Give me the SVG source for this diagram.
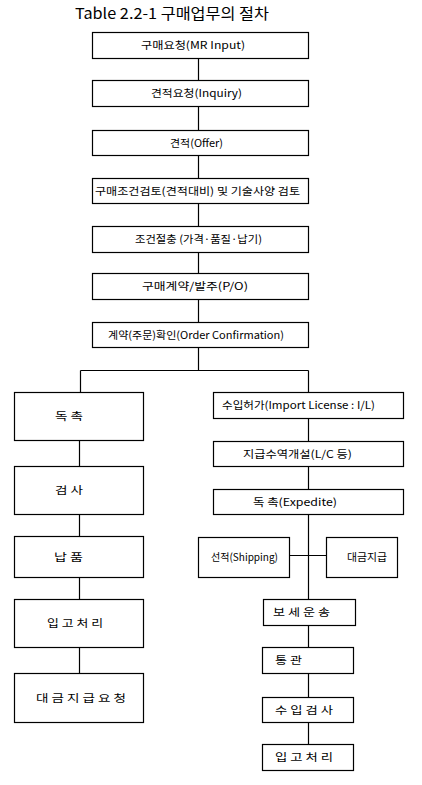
<svg xmlns="http://www.w3.org/2000/svg" width="422" height="785" viewBox="0 0 422 785">
<style>
.b{fill:#fff;stroke:#000;stroke-width:1.2}
.c{fill:none;stroke:#000;stroke-width:1.2}
text{font-family:"Noto Sans CJK KR","Noto Sans",sans-serif;font-size:10.5px;fill:#000}
.t{font-size:15px}
</style>
<rect width="422" height="785" fill="#fff"/>
<text class="t" x="75" y="19" textLength="194" lengthAdjust="spacingAndGlyphs">Table 2.2-1 구매업무의 절차</text>
<g id="connectors">
<path class="c" d="M198.5 58V80M198.5 106V130M198.5 155V178M198.5 203V226M198.5 252V273M198.5 299V322M198.5 347V370.5"/>
<path class="c" d="M80.5 370.5H308.5M80.5 370.5V392M79.5 440V466M79.5 514V536M79.5 577V599M79.5 647V673"/>
<path class="c" d="M308.5 370.5V392M308.5 418V441M308.5 466V489M308.5 514V599M289 555.5H326M308.5 625V647M308.5 673V697M308.5 722V744"/>
</g>
<g id="n1"><rect class="b" x="92.5" y="32.5" width="216" height="26"/><text x="141" y="49" textLength="104" lengthAdjust="spacingAndGlyphs">구매요청(MR Input)</text></g>
<g id="n2"><rect class="b" x="92.5" y="80.5" width="216" height="26"/><text x="151" y="97" textLength="91" lengthAdjust="spacingAndGlyphs">견적요청(Inquiry)</text></g>
<g id="n3"><rect class="b" x="92.5" y="130.5" width="216" height="25"/><text x="170" y="146.5" textLength="53" lengthAdjust="spacingAndGlyphs">견적(Offer)</text></g>
<g id="n4"><rect class="b" x="92.5" y="178.5" width="216" height="25"/><text x="95" y="194.5" textLength="205" lengthAdjust="spacingAndGlyphs">구매조건검토(견적대비) 및 기술사양 검토</text></g>
<g id="n5"><rect class="b" x="92.5" y="226.5" width="216" height="26"/><text x="135" y="243" textLength="127" lengthAdjust="spacingAndGlyphs">조건절충 (가격·품질·납기)</text></g>
<g id="n6"><rect class="b" x="92.5" y="273.5" width="216" height="26"/><text x="142" y="290" textLength="106" lengthAdjust="spacingAndGlyphs">구매계약/발주(P/O)</text></g>
<g id="n7"><rect class="b" x="92.5" y="322.5" width="216" height="25"/><text x="108" y="338.5" textLength="176" lengthAdjust="spacingAndGlyphs">계약(주문)확인(Order Confirmation)</text></g>
<g id="l1"><rect class="b" x="14.5" y="392.5" width="129" height="48"/><text x="55" y="420" textLength="28" lengthAdjust="spacingAndGlyphs">독 촉</text></g>
<g id="l2"><rect class="b" x="14.5" y="466.5" width="129" height="48"/><text x="55" y="494" textLength="28" lengthAdjust="spacingAndGlyphs">검 사</text></g>
<g id="l3"><rect class="b" x="14.5" y="536.5" width="129" height="41"/><text x="54" y="560.5" textLength="29" lengthAdjust="spacingAndGlyphs">납 품</text></g>
<g id="l4"><rect class="b" x="14.5" y="599.5" width="129" height="48"/><text x="47" y="627" textLength="56" lengthAdjust="spacingAndGlyphs">입 고 처 리</text></g>
<g id="l5"><rect class="b" x="14.5" y="673.5" width="129" height="49"/><text x="36" y="701.5" textLength="90" lengthAdjust="spacingAndGlyphs">대 금 지 급 요 청</text></g>
<g id="r1"><rect class="b" x="213.5" y="392.5" width="190" height="26"/><text x="222" y="409" textLength="153" lengthAdjust="spacingAndGlyphs">수입허가(Import License : I/L)</text></g>
<g id="r2"><rect class="b" x="213.5" y="441.5" width="190" height="25"/><text x="243" y="457.5" textLength="109" lengthAdjust="spacingAndGlyphs">지급수역개설(L/C 등)</text></g>
<g id="r3"><rect class="b" x="213.5" y="489.5" width="190" height="25"/><text x="253" y="505.5" textLength="84" lengthAdjust="spacingAndGlyphs">독 촉(Expedite)</text></g>
<g id="r4"><rect class="b" x="198.5" y="537.5" width="91" height="40"/><text x="211" y="561" textLength="67" lengthAdjust="spacingAndGlyphs">선적(Shipping)</text></g>
<g id="r5"><rect class="b" x="326.5" y="537.5" width="71" height="40"/><text x="347" y="561" textLength="40" lengthAdjust="spacingAndGlyphs">대금지급</text></g>
<g id="r6"><rect class="b" x="263.5" y="599.5" width="92" height="26"/><text x="273" y="616" textLength="57" lengthAdjust="spacingAndGlyphs">보 세 운 송</text></g>
<g id="r7"><rect class="b" x="262.5" y="647.5" width="91" height="26"/><text x="275" y="664" textLength="27" lengthAdjust="spacingAndGlyphs">통 관</text></g>
<g id="r8"><rect class="b" x="262.5" y="697.5" width="91" height="25"/><text x="275" y="713.5" textLength="58" lengthAdjust="spacingAndGlyphs">수 입 검 사</text></g>
<g id="r9"><rect class="b" x="262.5" y="744.5" width="91" height="26"/><text x="275" y="761" textLength="58" lengthAdjust="spacingAndGlyphs">입 고 처 리</text></g>
</svg>
